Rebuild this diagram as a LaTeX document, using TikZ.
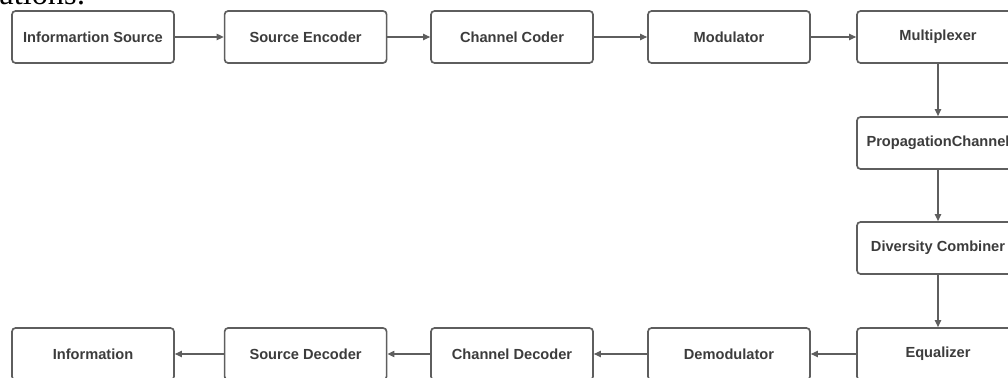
\documentclass[tikz,border=0pt]{standalone}
\usepackage{fontspec}
\setmainfont{Liberation Sans}
\newfontfamily\pageserif{Liberation Serif}
\usetikzlibrary{arrows.meta}
\definecolor{edgegray}{HTML}{5E5E5E}
\definecolor{textgray}{HTML}{3C3C3C}
\begin{document}
\begin{tikzpicture}[
    blk/.style={
        draw=edgegray, rectangle, rounded corners=2.5pt, line width=1.2pt,
        minimum width=4.05cm, minimum height=1.3cm, fill=white,
        font=\fontsize{10.4}{12}\selectfont\bfseries, text=textgray, align=center
    },
    flow/.style={-{Triangle[length=5pt,width=4.5pt]}, line width=0.9pt, edgegray}
]
    \useasboundingbox (0,0) rectangle (25.2,-9.45);

    % cut-off text of the page above
    \node[anchor=base west, inner sep=0pt, text=black,
          font=\pageserif\fontsize{23}{26}\selectfont] (pagetxt) at (-0.02,-0.125) {ations:};

    % Transmitter row
    \node[blk] (isrc) at (2.325,-0.925) {Informartion Source};
    \node[blk] (senc) at (7.64,-0.925) {Source Encoder};
    \node[blk] (ccod) at (12.8,-0.925) {Channel Coder};
    \node[blk] (mod)  at (18.225,-0.925) {Modulator};
    \node[blk] (mux)  at (23.45,-0.925) {Multiplexer};

    % Channel column
    \node[blk] (prop) at (23.45,-3.575) {PropagationChannel};
    \node[blk] (div)  at (23.45,-6.2) {Diversity Combiner};

    % Receiver row
    \node[blk] (equ)  at (23.45,-8.85) {Equalizer};
    \node[blk] (demod) at (18.225,-8.85) {Demodulator};
    \node[blk] (cdec) at (12.8,-8.85) {Channel Decoder};
    \node[blk] (sdec) at (7.64,-8.85) {Source Decoder};
    \node[blk] (info) at (2.325,-8.85) {Information};

    % connections
    \draw[flow] (isrc) -- (senc);
    \draw[flow] (senc) -- (ccod);
    \draw[flow] (ccod) -- (mod);
    \draw[flow] (mod) -- (mux);
    \draw[flow] (mux) -- (prop);
    \draw[flow] (prop) -- (div);
    \draw[flow] (div) -- (equ);
    \draw[flow] (equ) -- (demod);
    \draw[flow] (demod) -- (cdec);
    \draw[flow] (cdec) -- (sdec);
    \draw[flow] (sdec) -- (info);

\end{tikzpicture}
\end{document}
